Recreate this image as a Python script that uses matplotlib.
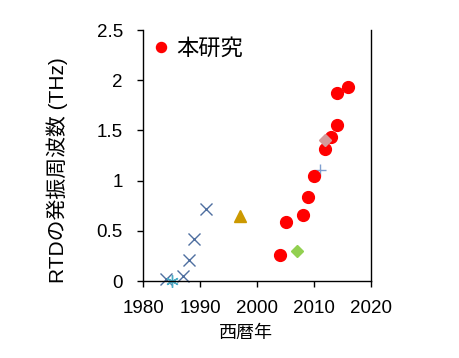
import matplotlib
matplotlib.use("Agg")
import matplotlib.pyplot as plt

plt.rcParams['font.family'] = ['Liberation Sans', 'Noto Sans CJK JP', 'DejaVu Sans']

# this work (red circles)
ours_year = [2004, 2005, 2008, 2009, 2010, 2012, 2013, 2014, 2014, 2016]
ours_thz = [0.26, 0.59, 0.655, 0.84, 1.05, 1.32, 1.43, 1.55, 1.875, 1.93]

# other groups
x_year = [1984, 1987, 1988, 1989, 1991]
x_thz = [0.02, 0.05, 0.21, 0.42, 0.715]
star_year = [1985]
star_thz = [0.0]
tri_year = [1997]
tri_thz = [0.65]
green_year = [2007]
green_thz = [0.30]
plus_year = [2011]
plus_thz = [1.11]
pink_year = [2012]
pink_thz = [1.40]

xticks = [1980, 1990, 2000, 2010, 2020]
yticks = [0, 0.5, 1, 1.5, 2, 2.5]
ytick_labels = ['0', '0.5', '1', '1.5', '2', '2.5']

fig = plt.figure(figsize=(4.6, 3.58), dpi=100)
ax = fig.add_axes([0.311, 0.215, 0.4955, 0.701])

ax.plot(x_year, x_thz, 'x', color='#4f6fa0', ms=8, mew=1.0, ls='none', clip_on=False)
ax.plot(star_year, star_thz, marker=(6, 2, 0), color='#4bacc6', ms=9, mew=1.0, ls='none', clip_on=False)
ax.plot(tri_year, tri_thz, '^', color='#cc9900', ms=8, ls='none')
ax.plot(green_year, green_thz, 'D', color='#92d050', ms=6, ls='none')
ax.plot(plus_year, plus_thz, '+', color='#7f9fcf', ms=9, mew=1.0, ls='none')
ax.plot(ours_year, ours_thz, 'o', color='#ff0000', ms=8.5, ls='none', label='本研究')
ax.plot(pink_year, pink_thz, 'D', color='#d49a9a', ms=6.5, ls='none')

ax.set_xlim(1980, 2020)
ax.set_ylim(0, 2.5)
ax.set_xticks(xticks)
ax.set_xticklabels([str(t) for t in xticks])
ax.set_yticks(yticks)
ax.set_yticklabels(ytick_labels)
ax.tick_params(direction='out', length=4.5, width=1, labelsize=13.5, colors='black')
ax.tick_params(axis='y', pad=10)
ax.tick_params(axis='x', pad=9)

ax.spines['top'].set_visible(False)
for s in ['left', 'right', 'bottom']:
    ax.spines[s].set_linewidth(1)
    ax.spines[s].set_color('black')

ax.set_xlabel('西暦年', fontsize=13)
ax.set_ylabel('RTDの発振周波数 (THz)', fontsize=15)
ax.xaxis.set_label_coords(0.45, -0.175)
ax.yaxis.set_label_coords(-0.33, 0.44)

leg = ax.legend(loc='upper left', frameon=False, fontsize=16, markerscale=0.85,
                handletextpad=0.3, borderaxespad=0.1, borderpad=0.3, handlelength=0.8)

fig.savefig('out.png', dpi=100)
